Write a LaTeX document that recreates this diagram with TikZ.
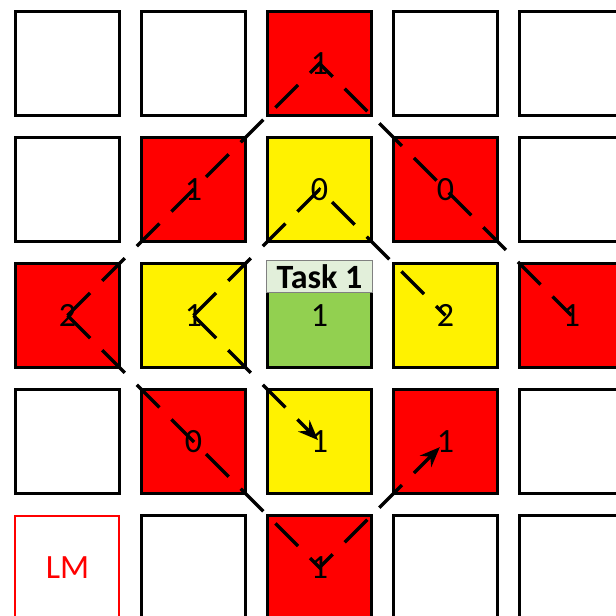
\documentclass[tikz,border=0pt]{standalone}
\usepackage{fontspec}
\setmainfont{Carlito}
\usetikzlibrary{arrows.meta}
\definecolor{taskgreen}{HTML}{92D050}
\definecolor{taskhead}{HTML}{E2EFDA}

\begin{document}
\begin{tikzpicture}[x=63pt,y=63pt,>={Stealth[length=10pt,width=8pt]},
  cell/.style={draw, line width=1.7pt, minimum size=52pt, inner sep=0pt,
    font=\fontsize{17}{17}\selectfont},
  hot/.style={cell, fill=red},
  warm/.style={cell, fill=yellow},
  route/.style={line width=1.7pt, dash pattern=on 16pt off 8.5pt}]
\clip (0.4643,-0.496) rectangle (5.353,-5.385);
% row 1
\node[cell] (c11) at (1,-1) {};
\node[cell] (c12) at (2,-1) {};
\node[hot]  (c13) at (3,-1) {1};
\node[cell] (c14) at (4,-1) {};
\node[cell] (c15) at (5,-1) {};
% row 2
\node[cell] (c21) at (1,-2) {};
\node[hot]  (c22) at (2,-2) {1};
\node[warm] (c23) at (3,-2) {0};
\node[hot]  (c24) at (4,-2) {0};
\node[cell] (c25) at (5,-2) {};
% row 3, task in the middle
\node[hot]  (c31) at (1,-3) {2};
\node[warm] (c32) at (2,-3) {1};
\node[cell, fill=taskgreen] (c33) at (3,-3) {1};
\node[warm] (c34) at (4,-3) {2};
\node[hot]  (c35) at (5,-3) {1};
\node[draw=gray, line width=0.5pt, fill=taskhead, minimum width=53pt,
  minimum height=16pt, inner sep=0pt, anchor=north,
  font=\bfseries\fontsize{17}{17}\selectfont] (task) at ([yshift=0.85pt]c33.north) {Task 1};
% row 4
\node[cell] (c41) at (1,-4) {};
\node[hot]  (c42) at (2,-4) {0};
\node[warm] (c43) at (3,-4) {1};
\node[hot]  (c44) at (4,-4) {1};
\node[cell] (c45) at (5,-4) {};
% row 5
\node[cell, draw=red, line width=1pt, text=red] (c51) at (1,-5) {LM};
\node[cell] (c52) at (2,-5) {};
\node[hot]  (c53) at (3,-5) {1};
\node[cell] (c54) at (4,-5) {};
\node[cell] (c55) at (5,-5) {};
% dashed routes
\draw[route] (c31.center) -- (c22.center) -- (c13.center) -- (c24.center) -- (c35.center);
\draw[route] (c32.center) -- (c23.center) -- (c34.center);
\draw[route, ->, shorten >=1pt] (c32.center) -- (c43.center);
\draw[route, ->, shorten >=4pt] (c31.center) -- (c42.center) -- (c53.center) -- (c44.center);
\end{tikzpicture}
\end{document}
